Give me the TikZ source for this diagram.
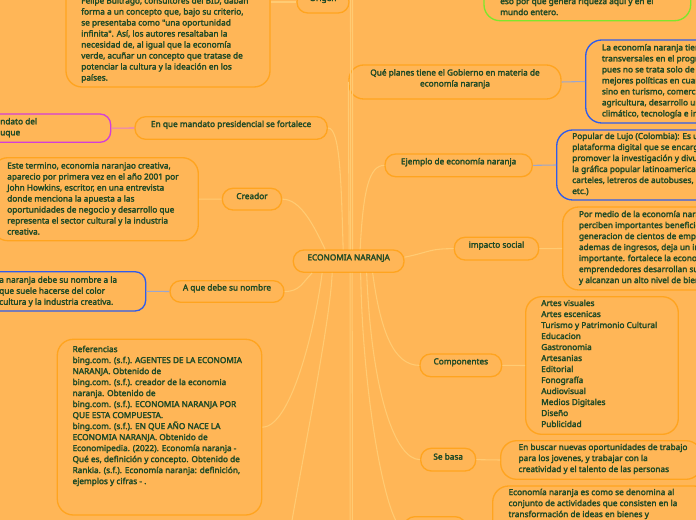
\documentclass[tikz,border=0pt]{standalone}
\usepackage{fontspec}
\setmainfont{Noto Sans}
\newfontfamily\mapfont{Noto Sans}[FakeBold=2.6]
\usetikzlibrary{fit,calc}
\definecolor{bg}{HTML}{FFB657}
\definecolor{bd}{HTML}{FFA41F}
\definecolor{ln}{HTML}{FFCB73}
\definecolor{tc}{HTML}{1F4A26}
\definecolor{grb}{HTML}{7EE62B}
\definecolor{blb}{HTML}{2F5CEB}
\definecolor{mgb}{HTML}{D43ED8}
\definecolor{bln}{HTML}{9AA6CF}
\definecolor{pln}{HTML}{E77BC9}
\begin{document}
\begin{tikzpicture}[x=0.75pt,y=-0.75pt,
  every node/.style={text=tc, font=\mapfont\fontsize{6.2}{8.25}\selectfont},
  pill/.style={draw=bd, line width=1pt, rounded corners=8pt, inner sep=0pt, fill=bg},
  card/.style={draw=bd, line width=1pt, rounded corners=12pt, inner sep=0pt, fill=bg},
  txt/.style={align=left, inner sep=0pt, anchor=north west, execute at begin node=\strut},
  link/.style={draw=ln, line width=0.8pt},
  bluelink/.style={draw=bln, line width=0.8pt},
  pinklink/.style={draw=pln, line width=0.8pt}]
\useasboundingbox (0,0) rectangle (696,520);
\clip (0,0) rectangle (696,520);
\fill[bg] (0,0) rectangle (696,520);

% free ends of connectors leaving the frame
\coordinate (tp1) at (350.5,-20);
\coordinate (tp2) at (352.5,-20);
\coordinate (dv1) at (350,600);
\coordinate (dv2) at (352.5,600);
\coordinate (dl) at (280,600);

% boxes
\node[card, fit={(66,-60)(270,87)}] (tl) {};
\node[pill, fit={(297,-9)(349,13)}] (org) {Origen};
\node[card, draw=grb, fit={(484,-40)(690.7,20.7)}] (gr) {};
\node[pill, rounded corners=11pt, align=left, fit={(349,65)(561,99)}] (qp) {Qué planes tiene el Gobierno en materia de\\economía naranja};
\node[card, draw=blb, fit={(585.7,40)(800,123)}] (b1) {};
\node[pill, fit={(385,154)(532.3,176.7)}] (ej) {Ejemplo de economía naranja};
\node[card, draw=blb, fit={(556.7,130)(800,200)}] (b2) {};
\node[pill, fit={(454.3,237.3)(538.7,260)}] (is) {impacto social};
\node[card, fit={(562.7,207)(800,290)}] (ob) {};
\node[pill, fit={(420,354)(501.7,376.7)}] (cp) {Componentes};
\node[card, fit={(525.7,296.7)(678.3,434.3)}] (cb) {};
\node[pill, fit={(420.7,448.3)(475.7,471)}] (sb) {Se basa};
\node[card, fit={(500.7,440.7)(702,479.3)}] (sbb) {};
\node[card, fit={(492.7,486)(710,580)}] (bb) {};
\node[pill, fit={(404,516.7)(466,540)}] (bn) {};
\node[pill, fit={(293.3,250)(404,272.3)}] (ce) {ECONOMIA NARANJA};
\node[pill, fit={(135,116.7)(327.3,139.3)}] (em) {En que mandato presidencial se fortalece};
\node[pill, draw=mgb, fit={(-60,114)(110.7,142.3)}] (mg) {};
\node[pill, fit={(222.3,188.3)(281.7,210)}] (cr) {Creador};
\node[card, fit={(-8,157.7)(198.3,240.7)}] (cbx) {};
\node[pill, fit={(170,280.7)(284,302.3)}] (aq) {A que debe su nombre};
\node[pill, draw=blb, fit={(-60,271.7)(145.7,311)}] (b3) {};
\node[card, fit={(57.3,339.3)(261.7,515)}] (rf) {};

% texts of the boxes
\node[txt] (tlT) at (81,-3) {Felipe Buitrago, consultores del BID, daban\\forma a un concepto que, bajo su criterio,\\se presentaba como "una oportunidad\\infinita". Así, los autores resaltaban la\\necesidad de, al igual que la economía\\verde, acuñar un concepto que tratase de\\potenciar la cultura y la ideación en los\\países.};
\node[txt] (grT) at (500,-2.5) {eso por que genera riqueza aquí y en el\\mundo entero.};
\node[txt] (b1T) at (601.7,43.8) {La economía naranja tiene\\transversales en el programa\\pues no se trata solo de\\mejores políticas en cuanto\\sino en turismo, comercio\\agricultura, desarrollo urbano\\climático, tecnología e innovación};
\node[txt] (b2T) at (572,132.5) {Popular de Lujo (Colombia): Es una\\plataforma digital que se encarga de\\promover la investigación y divulgación\\la gráfica popular latinoamericana\\carteles, letreros de autobuses,\\etc.)};
\node[txt] (obT) at (578.7,210.5) {Por medio de la economía naranja\\perciben importantes beneficios\\generacion de cientos de empleos\\ademas de ingresos, deja un impacto\\importante. fortalece la economía\\emprendedores desarrollan sus\\y alcanzan un alto nivel de bienestar};
\node[txt] (cbT) at (541,299.5) {Artes visuales\\Artes escenicas\\Turismo y Patrimonio Cultural\\Educacion\\Gastronomia\\Artesanias\\Editorial\\Fonografía\\Audiovisual\\Medios Digitales\\Diseño\\Publicidad};
\node[txt] (sbbT) at (518.3,443.5) {En buscar nuevas oportunidades de trabajo\\para los jovenes, y trabajar con la\\creatividad y el talento de las personas};
\node[txt] (bbT) at (508.3,488.5) {Economía naranja es como se denomina al\\conjunto de actividades que consisten en la\\transformación de ideas en bienes y};
\node[txt] (mgT) at (0,117.8) {ndato del\\uque};
\node[txt] (cbxT) at (7,162.2) {Este termino, economia naranjao creativa,\\aparecio por primera vez en el año 2001 por\\John Howkins, escritor, en una entrevista\\donde menciona la apuesta a las\\oportunidades de negocio y desarrollo que\\representa el sector cultural y la industria\\creativa.};
\node[txt] (b3T) at (-1,276.2) {a naranja debe su nombre a la\\que suele hacerse del color\\cultura y la industria creativa.};
\node[txt] (rfT) at (72.3,345.5) {Referencias\\bing.com. (s.f.). AGENTES DE LA ECONOMIA\\NARANJA. Obtenido de\\bing.com. (s.f.). creador de la economia\\naranja. Obtenido de\\bing.com. (s.f.). ECONOMIA NARANJA POR\\QUE ESTA COMPUESTA.\\bing.com. (s.f.). EN QUE AÑO NACE LA\\ECONOMIA NARANJA. Obtenido de\\Economipedia. (2022). Economía naranja -\\Qué es, definición y concepto. Obtenido de\\Rankia. (s.f.). Economía naranja: definición,\\ejemplos y cifras - .};

% child to box connectors
\draw[link] (org.west) -- (org.west -| tl.east);
\draw[bluelink] (qp.east) -- (b1.west);
\draw[bluelink] (ej.east) -- (b2.west);
\draw[link] (is.east) -- (ob.west);
\draw[link] (cp.east) -- (cb.west);
\draw[link] (sb.east) -- (sbb.west);
\draw[pinklink] (em.west) -- (mg.east);
\draw[link] (cr.west) -- (cbx.east);
\draw[bluelink] (aq.west) -- (b3.east);

% center connectors
\draw[link] (em.east) .. controls +(12,0) and +(-2,-70) .. ($(ce.north)+(-5.5,0)$);
\draw[link] (cr.east) .. controls +(18,0) and +(-12,-25) .. ($(ce.north)+(-23.5,0)$);
\draw[link] ($(ce.north)+(0.5,0)$) -- (qp.west);
\draw[link] ($(ce.north)+(2,0)$) -- (tp1);
\draw[link] ($(ce.north)+(4,0)$) -- (tp2);
\draw[link] ($(ce.north)+(11.5,0)$) .. controls +(3,-60) and +(-15,0) .. (ej.west);
\draw[link] ($(ce.east)+(0,-4)$) .. controls +(25,-5) and +(-25,0) .. (is.west);
\draw[link] (aq.east) .. controls +(15,0) and +(-10,10) .. ($(ce.south)+(-36.5,0)$);
\draw[link] (rf.east) .. controls +(28,0) and +(-8,60) .. ($(ce.south)+(-26.5,0)$);
\draw[link] ($(ce.south)+(-16.5,0)$) .. controls +(-2,60) and +(5,-60) .. (dl);
\draw[link] ($(ce.south)+(1.5,0)$) -- (dv1);
\draw[link] ($(ce.south)+(3.5,0)$) -- (dv2);
\draw[link] ($(ce.south)+(12,0)$) .. controls +(2,128) and +(-16,0) .. (bn.west);
\draw[link] ($(ce.south)+(18,0)$) .. controls +(5,120) and +(-25,0) .. (sb.west);
\draw[link] ($(ce.south)+(24,0)$) .. controls +(8,60) and +(-25,0) .. (cp.west);
\end{tikzpicture}
\end{document}
